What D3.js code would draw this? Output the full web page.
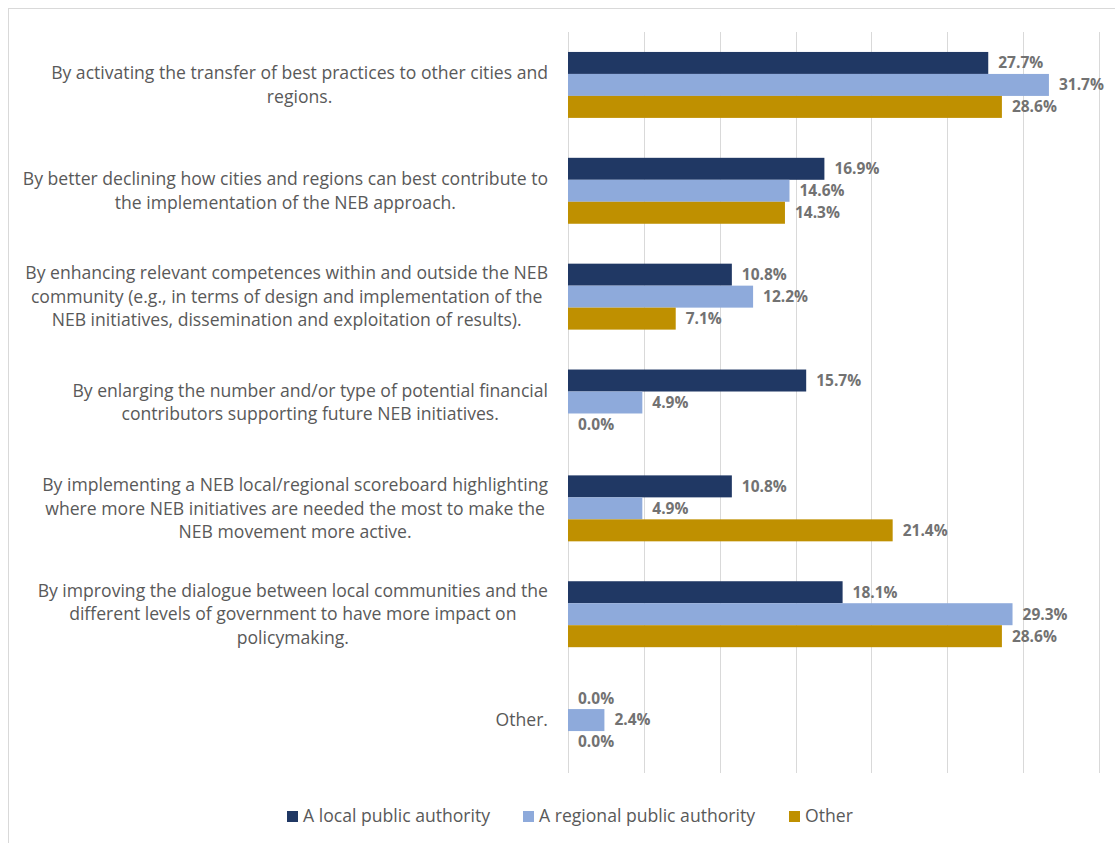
<!DOCTYPE html>
<html>
<head>
<meta charset="utf-8">
<script src="https://cdn.jsdelivr.net/npm/d3@7"></script>
<style>
  html, body { margin: 0; padding: 0; background: #fff; }
  svg { display: block; }
  text { font-family: "Open Sans", Lato, sans-serif; }
</style>
</head>
<body>
<svg id="chart" width="1115" height="843"></svg>
<script>
// Category labels, pre-wrapped into lines
const categoryLines = [
  ["By activating the transfer of best practices to other cities and", "regions."],
  ["By better declining how cities and regions can best contribute to", "the implementation of the NEB approach."],
  ["By enhancing relevant competences within and outside the NEB", "community (e.g., in terms of design and implementation of the", "NEB initiatives, dissemination and exploitation of results)."],
  ["By enlarging the number and/or type of potential financial", "contributors supporting future NEB initiatives."],
  ["By implementing a NEB local/regional scoreboard highlighting", "where more NEB initiatives are needed the most to make the", "NEB movement more active."],
  ["By improving the dialogue between local communities and the", "different levels of government to have more impact on", "policymaking."],
  ["Other."]
];

const seriesNames = ["A local public authority", "A regional public authority", "Other"];
const localValues    = [27.7, 16.9, 10.8, 15.7, 10.8, 18.1, 0.0];
const regionalValues = [31.7, 14.6, 12.2, 4.9, 4.9, 29.3, 2.4];
const otherValues    = [28.6, 14.3, 7.1, 0.0, 21.4, 28.6, 0.0];
const gridTicks = [0, 5, 10, 15, 20, 25, 30, 35];

const colors = ["#203864", "#8eaadb", "#bf9000"];
const seriesValues = [localValues, regionalValues, otherValues];

const svg = d3.select("#chart");

// chart frame
svg.append("rect")
  .attr("x", 8.5).attr("y", 8.5)
  .attr("width", 1200).attr("height", 1000)
  .attr("fill", "none").attr("stroke", "#d9d9d9").attr("stroke-width", 1);

const plotLeft = 568, plotRight = 1099, plotTop = 32, plotBottom = 773;

const x = d3.scaleLinear().domain([0, 35]).range([plotLeft, plotRight]);
const y = d3.scaleBand()
  .domain(d3.range(categoryLines.length))
  .range([plotTop, plotBottom])
  .paddingInner(0.377)
  .paddingOuter(0.1885);
const ySub = d3.scaleBand().domain(d3.range(3)).range([0, y.bandwidth()]);

// vertical gridlines
svg.append("g")
  .selectAll("line")
  .data(gridTicks)
  .join("line")
  .attr("x1", d => Math.round(x(d)) + 0.5)
  .attr("x2", d => Math.round(x(d)) + 0.5)
  .attr("y1", plotTop).attr("y2", plotBottom)
  .attr("stroke", "#d9d9d9").attr("stroke-width", 1);

// bars
const rows = [];
categoryLines.forEach((_, ci) => {
  seriesValues.forEach((vals, si) => rows.push({ ci, si, v: vals[ci] }));
});

svg.append("g")
  .selectAll("rect")
  .data(rows)
  .join("rect")
  .attr("x", x(0))
  .attr("y", d => y(d.ci) + ySub(d.si))
  .attr("width", d => x(d.v) - x(0))
  .attr("height", ySub.bandwidth())
  .attr("fill", d => colors[d.si]);

// value labels
svg.append("g")
  .selectAll("text")
  .data(rows)
  .join("text")
  .attr("x", d => x(d.v) + 10)
  .attr("y", d => y(d.ci) + ySub(d.si) + ySub.bandwidth() / 2)
  .attr("dy", "0.35em")
  .attr("font-size", 15.5)
  .attr("font-weight", "bold")
  .attr("fill", "#727272")
  .text(d => d.v.toFixed(1) + "%");

// category labels: each block right-aligned to the axis, lines centred within it
const labelRight = 548, lineHeight = 23.5;
const labelG = svg.append("g");
categoryLines.forEach((lines, ci) => {
  const t = labelG.append("text")
    .attr("font-size", 17.6)
    .attr("fill", "#595959")
    .attr("text-anchor", "middle");
  const spans = lines.map((ln, li) => t.append("tspan")
    .attr("y", y(ci) + y.bandwidth() / 2 + (li - (lines.length - 1) / 2) * lineHeight)
    .attr("dy", "0.35em")
    .text(ln));
  const maxW = d3.max(spans, s => s.node().getComputedTextLength());
  spans.forEach(s => s.attr("x", labelRight - maxW / 2));
});

// legend
const legendItems = [
  { name: seriesNames[0], x: 287 },
  { name: seriesNames[1], x: 523 },
  { name: seriesNames[2], x: 789 }
];
const lg = svg.append("g");
legendItems.forEach((it, i) => {
  lg.append("rect")
    .attr("x", it.x).attr("y", 811)
    .attr("width", 11).attr("height", 11)
    .attr("fill", colors[i]);
  lg.append("text")
    .attr("x", it.x + 16).attr("y", 816)
    .attr("dy", "0.35em")
    .attr("font-size", 17.6)
    .attr("fill", "#595959")
    .text(it.name);
});
</script>
</body>
</html>
